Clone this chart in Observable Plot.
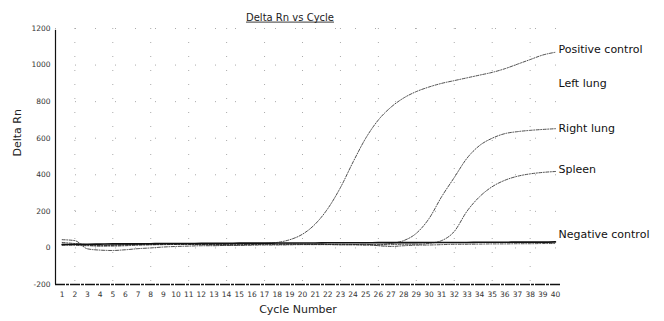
<!DOCTYPE html>
<html>
<head>
<meta charset="utf-8">
<script src="https://cdn.jsdelivr.net/npm/d3@7"></script>
<script src="https://cdn.jsdelivr.net/npm/@observablehq/plot@0.6"></script>
<style>
  html, body { margin: 0; padding: 0; background: #fff; }
  svg { display: block; }
</style>
</head>
<body>
<div id="chart"></div>
<script>
const cycles = [1,2,3,4,5,6,7,8,9,10,11,12,13,14,15,16,17,18,19,20,21,22,23,24,25,26,27,28,29,30,31,32,33,34,35,36,37,38,39,40];
const posCtrl   = [30,24,18,15,16,18,20,20,21,20,21,20,20,21,22,22,24,30,45,75,130,215,330,470,600,700,770,820,855,880,900,915,930,945,960,980,1005,1030,1055,1070];
const leftLung  = [45,40,-5,-12,-14,-10,-4,0,5,8,10,12,12,14,14,15,16,16,17,18,18,18,17,18,20,12,8,12,15,16,18,20,20,21,22,22,23,23,24,24];
const rightLung = [20,18,14,10,10,12,15,17,18,19,20,20,19,18,18,20,21,20,20,20,19,20,20,19,18,18,25,40,80,160,280,385,490,560,600,625,636,643,648,652];
const spleen    = [15,14,12,12,14,16,18,18,20,20,19,18,16,15,16,18,20,20,21,20,20,19,18,17,15,16,18,20,20,25,40,90,200,280,335,370,392,405,413,418];
const negCtrl   = [18,20,20,21,22,22,22,23,24,24,24,25,25,25,26,26,26,27,27,27,27,28,28,28,28,29,29,29,29,30,30,30,30,31,31,31,32,32,32,33];
const seriesNames = ["Positive control","Left lung","Right lung","Spleen","Negative control"];
const labelValues = [1085, 900, 655, 430, 75];
const yTicks = [-200,0,200,400,600,800,1000,1200];

const seriesData = [posCtrl, leftLung, rightLung, spleen, negCtrl];
const rows = [];
seriesNames.forEach((name, i) => {
  cycles.forEach((c, j) => rows.push({series: name, cycle: c, value: seriesData[i][j]}));
});
const labels = seriesNames.map((name, i) => ({series: name, cycle: cycles[cycles.length-1], value: labelValues[i]}));

const font = "DejaVu Sans, sans-serif";
const titleText = "Delta Rn vs Cycle";

const chart = Plot.plot({
  width: 664,
  height: 321,
  marginLeft: 55,
  marginRight: 104,
  marginTop: 28,
  marginBottom: 37,
  style: {fontFamily: font, background: "#fff", color: "#222", overflow: "visible"},
  x: {domain: [0.47, 40.4], ticks: cycles, tickSize: 0, tickPadding: 7, label: null, tickFormat: d => String(d)},
  y: {domain: [-200, 1200], ticks: yTicks, tickSize: 0, tickPadding: 5, label: null, tickFormat: d => String(d)},
  marks: [
    Plot.ruleX(cycles.filter(c => c % 3 === 2), {stroke: "#aaa", strokeDasharray: "1,13", strokeWidth: 1}),
    Plot.ruleY(yTicks.filter(v => v > -200), {stroke: "#aaa", strokeDasharray: "1,19", strokeWidth: 1}),
    Plot.axisX({ticks: cycles, tickSize: 0, tickPadding: 7, fontSize: 7.5, fill: "#333", label: null, tickFormat: d => String(d)}),
    Plot.axisY({ticks: yTicks, tickSize: 0, tickPadding: 5, fontSize: 7.5, fill: "#333", label: null, tickFormat: d => String(d)}),
    Plot.ruleY([-200], {stroke: "#111", strokeWidth: 1.4, strokeDasharray: "10,1,3,1"}),
    Plot.ruleX([0.47], {y1: -200, y2: 1190, stroke: "#111", strokeWidth: 1.2}),
    Plot.line(rows.filter(d => d.series !== "Negative control"), {
      x: "cycle", y: "value", z: "series", stroke: "#222", strokeWidth: 0.8,
      strokeDasharray: "3,1.5,1,1.5", curve: "monotone-x"
    }),
    Plot.line(rows.filter(d => d.series === "Negative control"), {
      x: "cycle", y: "value", stroke: "#111", strokeWidth: 1.6, curve: "monotone-x"
    }),
    Plot.text(labels, {x: "cycle", y: "value", text: "series", textAnchor: "start", dx: 3, fontSize: 11, fill: "#111"}),
    Plot.text([titleText], {frameAnchor: "top", dy: -15, dx: -18, fontSize: 10, fill: "#222"}),
    Plot.text(["Cycle Number"], {frameAnchor: "bottom", dy: 28, dx: -10, fontSize: 11, fill: "#222"}),
    Plot.text(["Delta Rn"], {frameAnchor: "left", dx: -38, rotate: -90, fontSize: 11, fill: "#222"})
  ]
});
document.getElementById("chart").appendChild(chart);

// underline the title
const t = Array.from(chart.querySelectorAll("text")).find(el => el.textContent === titleText);
if (t) {
  const b = t.getBBox();
  const m = t.getCTM();
  const x1 = m.a * b.x + m.e, x2 = m.a * (b.x + b.width) + m.e;
  const yy = m.d * (b.y + b.height) + m.f - 0.5;
  d3.select(chart).append("line")
    .attr("x1", x1).attr("x2", x2)
    .attr("y1", yy).attr("y2", yy)
    .attr("stroke", "#222").attr("stroke-width", 0.9);
}
</script>
</body>
</html>
